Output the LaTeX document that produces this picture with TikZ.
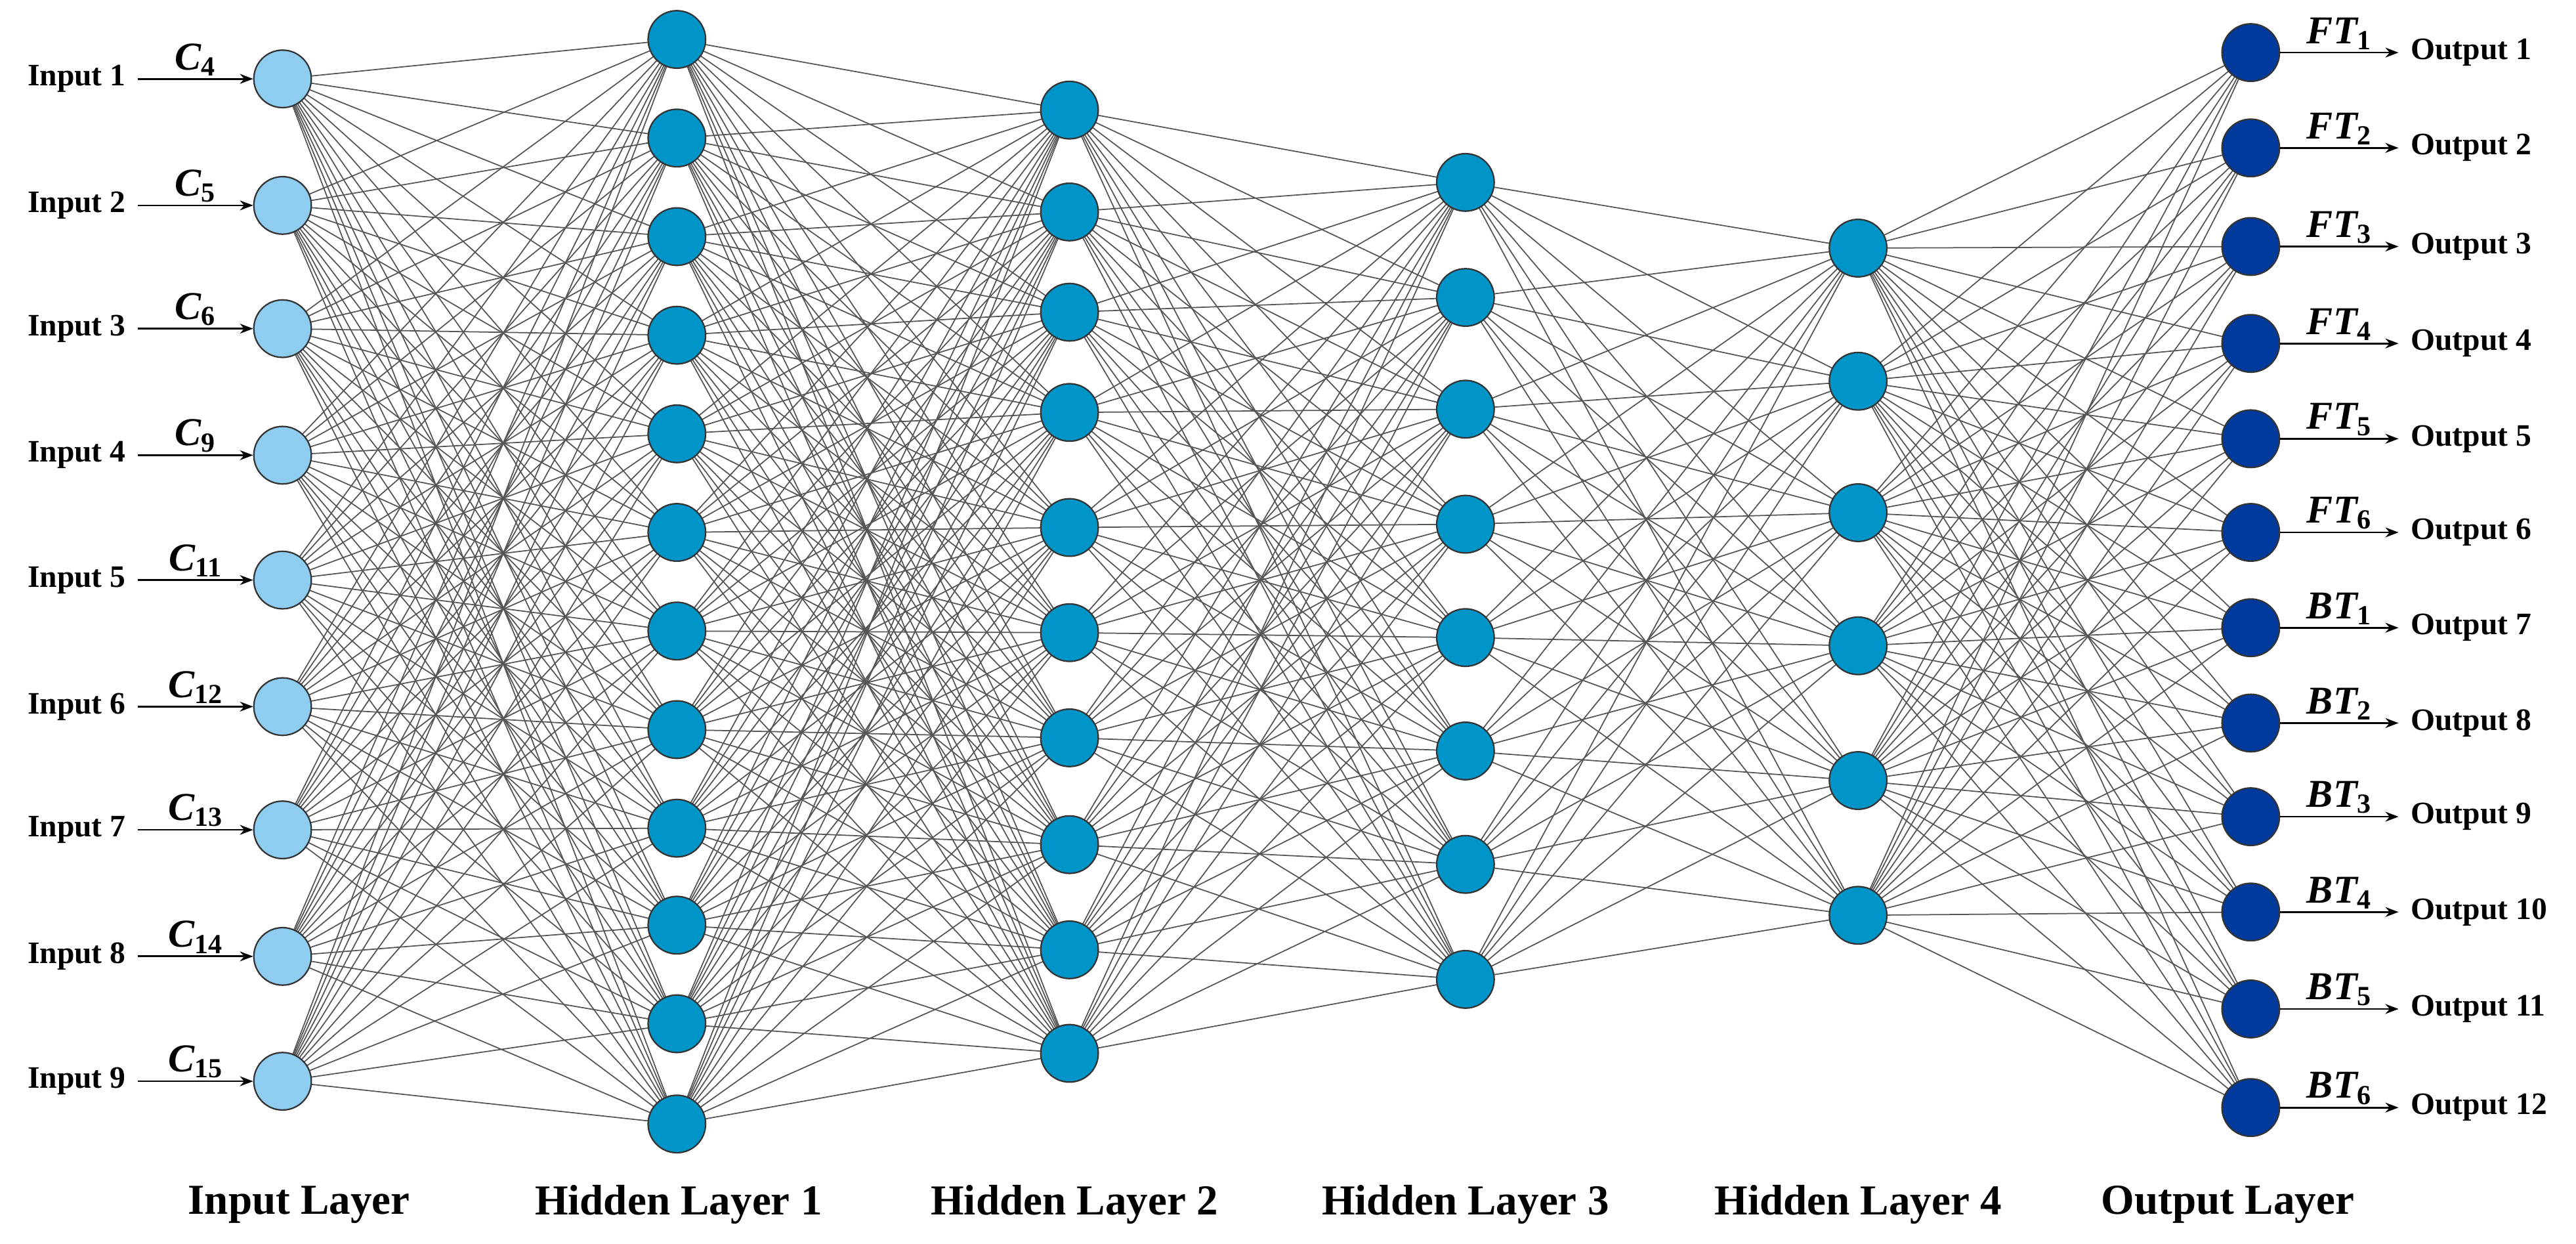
\documentclass[tikz,border=0pt]{standalone}
\usepackage{fontspec}
\setmainfont{Liberation Serif}
\usetikzlibrary{backgrounds,arrows.meta}
\definecolor{inc}{HTML}{8ECDF0}
\definecolor{hidc}{HTML}{0095C8}
\definecolor{outc}{HTML}{003A9C}
\definecolor{edg}{HTML}{555555}
\begin{document}
\begin{tikzpicture}[x=1pt,y=-1pt,
 neuron/.style={circle,draw=black!80,line width=0.9pt,minimum size=35pt,inner sep=0pt},
 inn/.style={neuron,fill=inc},
 hid/.style={neuron,fill=hidc},
 outn/.style={neuron,fill=outc},
 edge/.style={draw=edg,line width=0.7pt},
 arr/.style={-{Stealth[length=8pt,width=6pt]},line width=1.1pt},
 lbl/.style={font=\fontsize{19}{19}\selectfont\bfseries},
 sym/.style={font=\fontsize{24}{24}\selectfont\bfseries\itshape},
 layer/.style={font=\fontsize{26}{26}\selectfont\bfseries}]
\useasboundingbox (0,0) rectangle (1568,757);
% nodes
\foreach \y [count=\i] in {48,125,200,277,353,430,505,582,658} \node[inn] (a\i) at (172,\y) {};
\foreach \y [count=\i] in {24,84,144,204,264,324,384,444,504,563,623,684} \node[hid] (b\i) at (412,\y) {};
\foreach \y [count=\i] in {67,129,190,251,321,385,449,514,578,641} \node[hid] (c\i) at (651,\y) {};
\foreach \y [count=\i] in {111,181,249,319,388,457,526,596} \node[hid] (d\i) at (892,\y) {};
\foreach \y [count=\i] in {151,232,312,393,475,557} \node[hid] (e\i) at (1131,\y) {};
\foreach \y [count=\i] in {32,90,150,209,267,324,382,440,497,555,614,674} \node[outn] (f\i) at (1370,\y) {};
% edges
\begin{scope}[on background layer]
\fill[white] (0,0) rectangle (1568,757);
\foreach \i in {1,...,9}{\foreach \j in {1,...,12}{\draw[edge] (a\i.center) -- (b\j.center);}}
\foreach \i in {1,...,12}{\foreach \j in {1,...,10}{\draw[edge] (b\i.center) -- (c\j.center);}}
\foreach \i in {1,...,10}{\foreach \j in {1,...,8}{\draw[edge] (c\i.center) -- (d\j.center);}}
\foreach \i in {1,...,8}{\foreach \j in {1,...,6}{\draw[edge] (d\i.center) -- (e\j.center);}}
\foreach \i in {1,...,6}{\foreach \j in {1,...,12}{\draw[edge] (e\i.center) -- (f\j.center);}}
\end{scope}
% inputs
\foreach \s [count=\i] in {4,5,6,9,11,12,13,14,15}{
 \coordinate (ia\i) at ([xshift=-70pt]a\i.west);
 \node[lbl,anchor=east] (il\i) at ([xshift=-4pt]ia\i) {Input \i};
 \draw[arr] (ia\i) -- (a\i.west) node[sym,midway,above=-2pt] (is\i) {C\textsubscript{\upshape\s}};
}
% outputs
\foreach \s/\k [count=\i] in {FT/1,FT/2,FT/3,FT/4,FT/5,FT/6,BT/1,BT/2,BT/3,BT/4,BT/5,BT/6}{
 \coordinate (oa\i) at ([xshift=72pt]f\i.east);
 \node[lbl,anchor=west] (ol\i) at ([xshift=4pt]oa\i) {Output \i};
 \draw[arr] (f\i.east) -- (oa\i) node[sym,midway,above=-2pt] (os\i) {\s\textsubscript{\upshape\k}};
}
% layer labels
\node[layer] (L1) at (182,733) {Input Layer};
\node[layer] (L2) at (413,733) {Hidden Layer 1};
\node[layer] (L3) at (654,733) {Hidden Layer 2};
\node[layer] (L4) at (892,733) {Hidden Layer 3};
\node[layer] (L5) at (1131,733) {Hidden Layer 4};
\node[layer] (L6) at (1356,733) {Output Layer};
\end{tikzpicture}
\end{document}
